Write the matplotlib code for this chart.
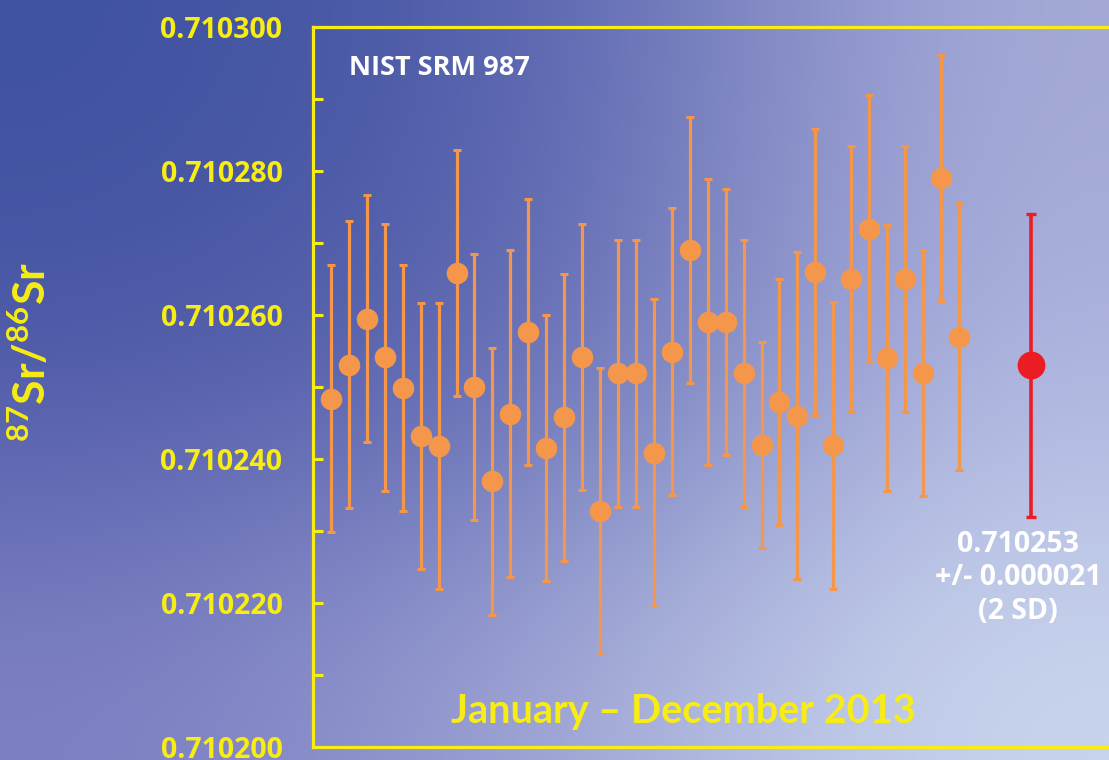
import numpy as np
import matplotlib
matplotlib.use("Agg")
import matplotlib.pyplot as plt
from matplotlib.ticker import MultipleLocator, FormatStrFormatter

# 87Sr/86Sr of NIST SRM 987 runs through 2013, shown as offsets in ppm above 0.710000
run_index = list(range(1, 37))
ratio_ppm = [248.4, 253.1, 259.5, 254.1, 249.9, 243.2, 241.8, 265.8, 250.0, 236.9,
             246.3, 257.6, 241.5, 245.8, 254.2, 232.8, 251.9, 251.9, 240.9, 254.9,
             269.0, 259.0, 259.0, 251.9, 241.9, 247.9, 246.0, 266.0, 241.9, 265.0,
             272.0, 254.0, 265.0, 251.9, 279.0, 257.0]
err_ppm = [18.5, 19.9, 17.1, 18.5, 17.1, 18.5, 19.9, 17.1, 18.5, 18.5,
           22.7, 18.5, 18.5, 19.9, 18.5, 19.9, 18.5, 18.5, 21.3, 19.9,
           18.5, 19.9, 18.5, 18.5, 14.3, 17.1, 22.7, 19.9, 19.9, 18.5,
           18.5, 18.5, 18.5, 17.1, 17.1, 18.5]

mean_index = 40
mean_ratio = 0.710253
mean_2sd = 0.000021

base = 0.710000
ratios = [base + v * 1e-6 for v in ratio_ppm]
errs = [e * 1e-6 for e in err_ppm]

YELLOW = "#F7EC13"
ORANGE = "#F5974A"
RED = "#EC1C24"

W, H = 1109, 760
fig = plt.figure(figsize=(W / 100, H / 100), dpi=100)

# soft diagonal blue gradient behind everything
bg = fig.add_axes([0, 0, 1, 1], zorder=-10)
grid = np.array([
    [(62, 82, 160), (88, 98, 174), (166, 171, 216)],
    [(80, 90, 168), (100, 108, 180), (176, 182, 224)],
    [(125, 128, 195), (160, 166, 213), (202, 214, 238)],
], dtype=float) / 255.0
bg.imshow(grid, extent=[0, 1, 0, 1], aspect="auto", interpolation="bicubic",
          origin="upper")
bg.set_xlim(0, 1)
bg.set_ylim(0, 1)
bg.axis("off")

left_px, right_px, top_px, bot_px = 313, 1118, 27, 747
ax = fig.add_axes([left_px / W, 1 - bot_px / H, (right_px - left_px) / W,
                   (bot_px - top_px) / H])
ax.set_facecolor("none")
ax.set_xlim(0, (right_px - left_px) / 17.94)
ax.set_ylim(0.710200, 0.710300)

for side in ("left", "top", "bottom"):
    ax.spines[side].set_color(YELLOW)
    ax.spines[side].set_linewidth(2.3)
ax.spines["right"].set_visible(False)
ax.set_xticks([])

ax.yaxis.set_major_locator(MultipleLocator(0.00002))
ax.yaxis.set_minor_locator(MultipleLocator(0.00001))
ax.yaxis.set_major_formatter(FormatStrFormatter("%.6f"))
ax.tick_params(axis="y", which="both", direction="in", length=7, width=2.2,
               color=YELLOW)
ax.tick_params(axis="y", which="major", pad=22, labelcolor=YELLOW,
               labelsize=20.5)
for lab in ax.get_yticklabels():
    lab.set_fontfamily("Open Sans")
    lab.set_fontweight("bold")

ax.errorbar(run_index, ratios, yerr=errs, fmt="o", color=ORANGE, ecolor=ORANGE,
            ms=15.5, mec="none", elinewidth=2.3, capsize=3, capthick=2.2,
            zorder=3, clip_on=False)
ax.errorbar([mean_index], [mean_ratio], yerr=[mean_2sd], fmt="o", color=RED,
            ecolor=RED, ms=20, mec="none", elinewidth=2.6, capsize=3.5,
            capthick=2.4, zorder=4)

ax.text(0.045, 0.943, "NIST SRM 987", transform=ax.transAxes, color="white",
        fontsize=19.5, fontweight="bold", family="Open Sans", va="center",
        ha="left")

ax.text(mean_index - 0.7, 0.7102302,
        f"{mean_ratio:.6f}\n+/- {mean_2sd:.6f}\n(2 SD)",
        color="white", fontsize=20.5, fontweight="bold", family="Open Sans",
        ha="center", va="top", linespacing=1.22, multialignment="center")

fig.text(683 / W, 1 - 711 / H, "January \u2013 December 2013", color=YELLOW,
         fontsize=28.5, fontweight="bold", family="Lato", ha="center",
         va="center")

plt.rcParams["mathtext.fontset"] = "custom"
plt.rcParams["mathtext.rm"] = "Lato:bold"
plt.rcParams["mathtext.default"] = "rm"
fig.text(33 / W, 1 - 352 / H, r"$^{87}\mathrm{Sr/}^{86}\mathrm{Sr}$",
         rotation=90, color=YELLOW, fontsize=32, ha="center", va="center")

fig.savefig("out.png", dpi=100)
